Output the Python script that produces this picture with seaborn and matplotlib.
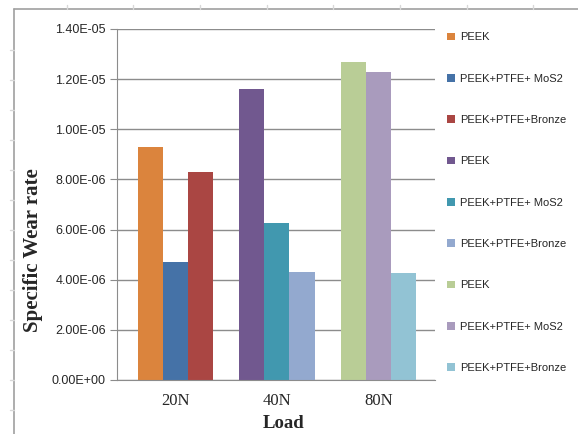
import pandas as pd
import numpy as np
import matplotlib
matplotlib.use('Agg')
import matplotlib.pyplot as plt
import seaborn as sns
from matplotlib.patches import Patch
from matplotlib.lines import Line2D
from matplotlib.ticker import FuncFormatter

# data
loads = ['20N', '40N', '80N']
materials = ['PEEK', 'PEEK+PTFE+ MoS2', 'PEEK+PTFE+Bronze']
rate_20N = [9.31e-6, 4.69e-6, 8.28e-6]
rate_40N = [1.16e-5, 6.28e-6, 4.32e-6]
rate_80N = [1.27e-5, 1.23e-5, 4.26e-6]

# one colour per bar (Excel 2007 palette)
colors = ['#DB843D', '#4572A7', '#AA4643',
          '#71588F', '#4198AF', '#93A9CF',
          '#B9CD96', '#A99BBD', '#92C3D4']

sns.set_style('white')
plt.rcParams['font.family'] = ['Liberation Sans', 'DejaVu Sans']

df = pd.DataFrame({
    'Load': np.repeat(loads, 3),
    'slot': materials * 3,
    'rate': rate_20N + rate_40N + rate_80N,
})

fig = plt.figure(figsize=(5.78, 4.34), dpi=100)
ax = fig.add_axes([117/578, 1-380/434, (435-117)/578, (380-29)/434])

sns.barplot(data=df, x='Load', y='rate', hue='slot', hue_order=materials,
            order=loads, width=0.74, saturation=1, legend=False, ax=ax)

# recolour each bar, container j = slot, index i = load
for j, cont in enumerate(ax.containers):
    for i, bar in enumerate(cont):
        bar.set_facecolor(colors[i*3+j])
        bar.set_edgecolor('none')

ax.set_xlim(-0.576, 2.557)
ax.set_ylim(0, 1.4e-5)
ax.set_yticks(np.arange(0, 1.41e-5, 2e-6))
ax.yaxis.set_major_formatter(FuncFormatter(lambda v, p: f'{v:.2E}'))
ax.grid(axis='y', color='#8c8c8c', lw=1)
ax.set_axisbelow(True)
for s in ['top', 'right']:
    ax.spines[s].set_visible(False)
for s in ['left', 'bottom']:
    ax.spines[s].set_color('#8c8c8c')
ax.tick_params(axis='y', left=True, length=5, color='#8c8c8c', labelsize=9, pad=3)
ax.tick_params(axis='x', bottom=False, labelsize=12, pad=6)
for t in ax.get_xticklabels():
    t.set_family('Liberation Serif')

ax.set_xlabel('Load', family='Liberation Serif', fontweight='bold', fontsize=13.5)
ax.xaxis.set_label_coords((284-117)/318, -(415-380)/351)
ax.set_ylabel('Specific Wear rate', family='Liberation Serif', fontweight='bold',
              fontsize=15)
ax.yaxis.set_label_coords(-(117-43)/318, (380-250)/351)

handles = [Patch(facecolor=c, edgecolor='none') for c in colors]
labels = materials * 3
fig.legend(handles, labels, loc='upper left', bbox_to_anchor=(443/578, 1-28/434),
           frameon=False, fontsize=8, handlelength=0.7, handleheight=0.7,
           handletextpad=0.4, labelspacing=2.82, borderaxespad=0)

# outer frame like the spreadsheet chart area
fc = '#a0a0a0'
fig.add_artist(Line2D([14/578, 14/578], [0, 1-9/434], color=fc, lw=1.2))
fig.add_artist(Line2D([14/578, 1], [1-9/434, 1-9/434], color=fc, lw=1.2))
for x in [67, 133, 200, 267, 333, 400, 467, 533]:
    fig.add_artist(Line2D([x/578, x/578], [1-9/434, 1-5/434], color='#d8d8d8', lw=1))
for y in range(50, 434, 30):
    fig.add_artist(Line2D([10/578, 14/578], [1-y/434, 1-y/434], color='#d8d8d8', lw=1))

fig.savefig('out.png', dpi=100)
